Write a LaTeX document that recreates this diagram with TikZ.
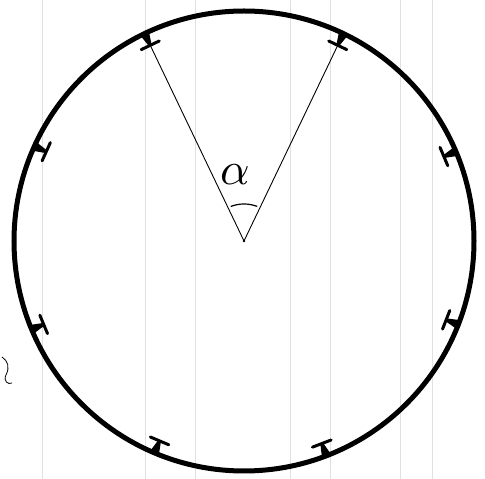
\documentclass[tikz,border=0pt]{standalone}
\usetikzlibrary{calc}
\tikzset{
  ring/.style={line width=5pt},
  ray/.style={line width=0.9pt},
  paperline/.style={line width=0.6pt, black!12},
  disl/.style={line width=3pt, line cap=round},
}
\newcommand{\dislmark}[2]{% name, angle
  \coordinate (#1) at ($(o)+(#2:217)$);
  \fill ($(o)+(#2:229)+(#2+90:4.5)$) -- ($(o)+(#2:229)+(#2-90:4.5)$) -- ($(#1)+(#2-90:1.5)$) -- ($(#1)+(#2+90:1.5)$) -- cycle;
  \draw[disl] ($(#1)+(#2+90:10)$) -- ($(#1)+(#2-90:10)$);
}
\begin{document}
\begin{tikzpicture}[x=1pt,y=1pt]
\useasboundingbox (0,0) rectangle (485,479);
% faint paper rulings
\foreach \xx in {42,145,195,290,330,400,432}
  \draw[paperline] (\xx,0) -- (\xx,479);
\coordinate (o) at (244,238);
\draw[ring] (o) circle (230);
\dislmark{m1}{115.6}
\dislmark{m2}{64.4}
\dislmark{m3}{155.7}
\dislmark{m4}{22.9}
\dislmark{m5}{202.6}
\dislmark{m6}{-21.3}
\dislmark{m7}{247.1}
\dislmark{m8}{-69}
\draw[ray] (o) -- (m1);
\draw[ray] (o) -- (m2);
\fill (o) circle (1.3);
\draw[line width=1.2pt] ($(o)+(111:37)$) arc[start angle=111, end angle=69, radius=37];
\node (alpha) at (235,304) {\scalebox{4.6}{$\alpha$}};
% cut-off mark at left edge
\draw[line width=0.8pt] (2,122) .. controls (8,118) and (10,112) .. (6,104) .. controls (3,98) and (8,94) .. (12,96);
\end{tikzpicture}
\end{document}
